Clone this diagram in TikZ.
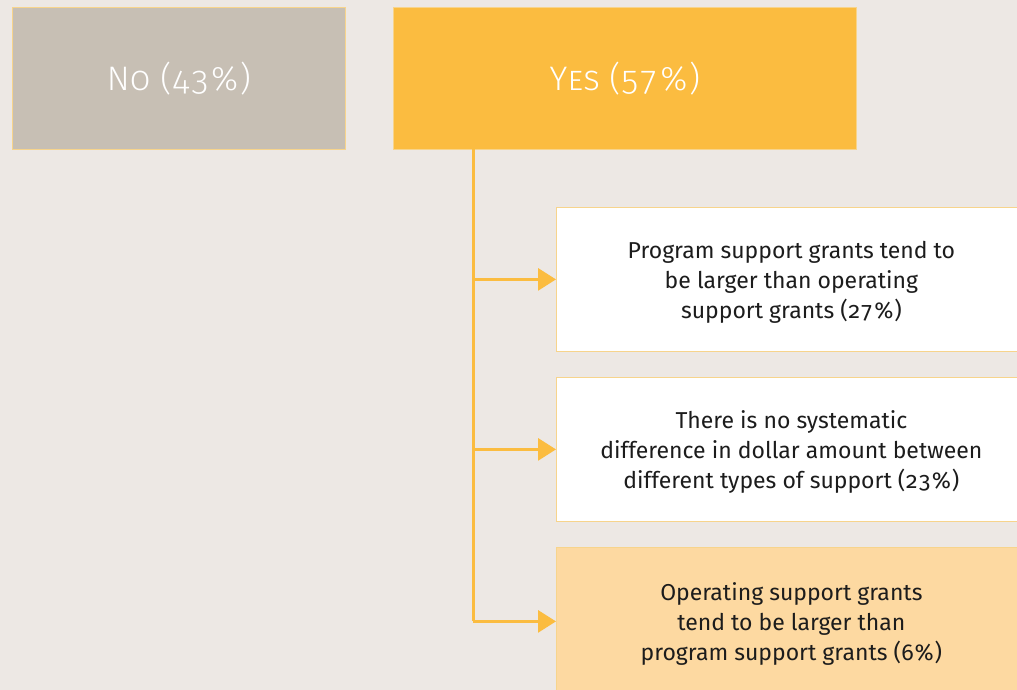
\documentclass[tikz,border=0pt]{standalone}
\usepackage{fontspec}
\setmainfont[Numbers={OldStyle,Monospaced}]{Fira Sans}
\newfontfamily\headfont[Numbers={OldStyle,Monospaced}]{Fira Sans Light}
\usepackage{xcolor}
\usepackage{tikz}
\usetikzlibrary{arrows.meta,positioning}

\definecolor{paper}{HTML}{EDE8E4}
\definecolor{taupe}{HTML}{C7BFB4}
\definecolor{amber}{HTML}{FBBC40}
\definecolor{edge}{HTML}{F7D48C}
\definecolor{peach}{HTML}{FDD9A1}
\definecolor{ink}{HTML}{1C1C1C}

\begin{document}
\begin{tikzpicture}[
    x=1pt, y=-1pt,
    answer/.style={draw=edge, line width=0.8pt, anchor=north west, minimum height=142pt,
        text=white, font=\headfont\fontsize{34}{40}\selectfont, inner sep=0pt},
    option/.style={draw=edge, line width=0.8pt, anchor=north west, minimum width=470pt,
        minimum height=144pt, align=center, text=ink, text depth=0pt,
        font=\fontsize{23}{30}\selectfont},
    link/.style={draw=amber, line width=3pt},
    arrow/.style={link, -{Triangle[length=18pt,width=22pt]}}
]
    \fill[paper] (0,0) rectangle (1017,690);
    \useasboundingbox (0,0) rectangle (1017,690);

    % the two answers
    \node[answer, fill=taupe, minimum width=333pt] (no) at (12,7) {N\textsc{o} (43\%)};
    \node[answer, fill=amber, minimum width=463pt] (yes) at (393,7) {Y\textsc{es} (57\%)};

    % follow-up options under yes
    \node[option, fill=white] (opt1) at (556,207)
        {Program support grants tend to\\be larger than operating\\support grants (27\%)};
    \node[option, fill=white] (opt2) at (556,377)
        {There is no systematic\\difference in dollar amount between\\different types of support (23\%)};
    \node[option, fill=peach, minimum height=148pt] (opt3) at (556,547)
        {Operating support grants\\tend to be larger than\\program support grants (6\%)};

    \coordinate (trunk) at (473,149);
    \draw[link] (trunk) -- (trunk |- opt3.west);
    \draw[arrow] (trunk |- opt1.west) -- (opt1.west);
    \draw[arrow] (trunk |- opt2.west) -- (opt2.west);
    \draw[arrow] (trunk |- opt3.west) -- (opt3.west);
\end{tikzpicture}
\end{document}
